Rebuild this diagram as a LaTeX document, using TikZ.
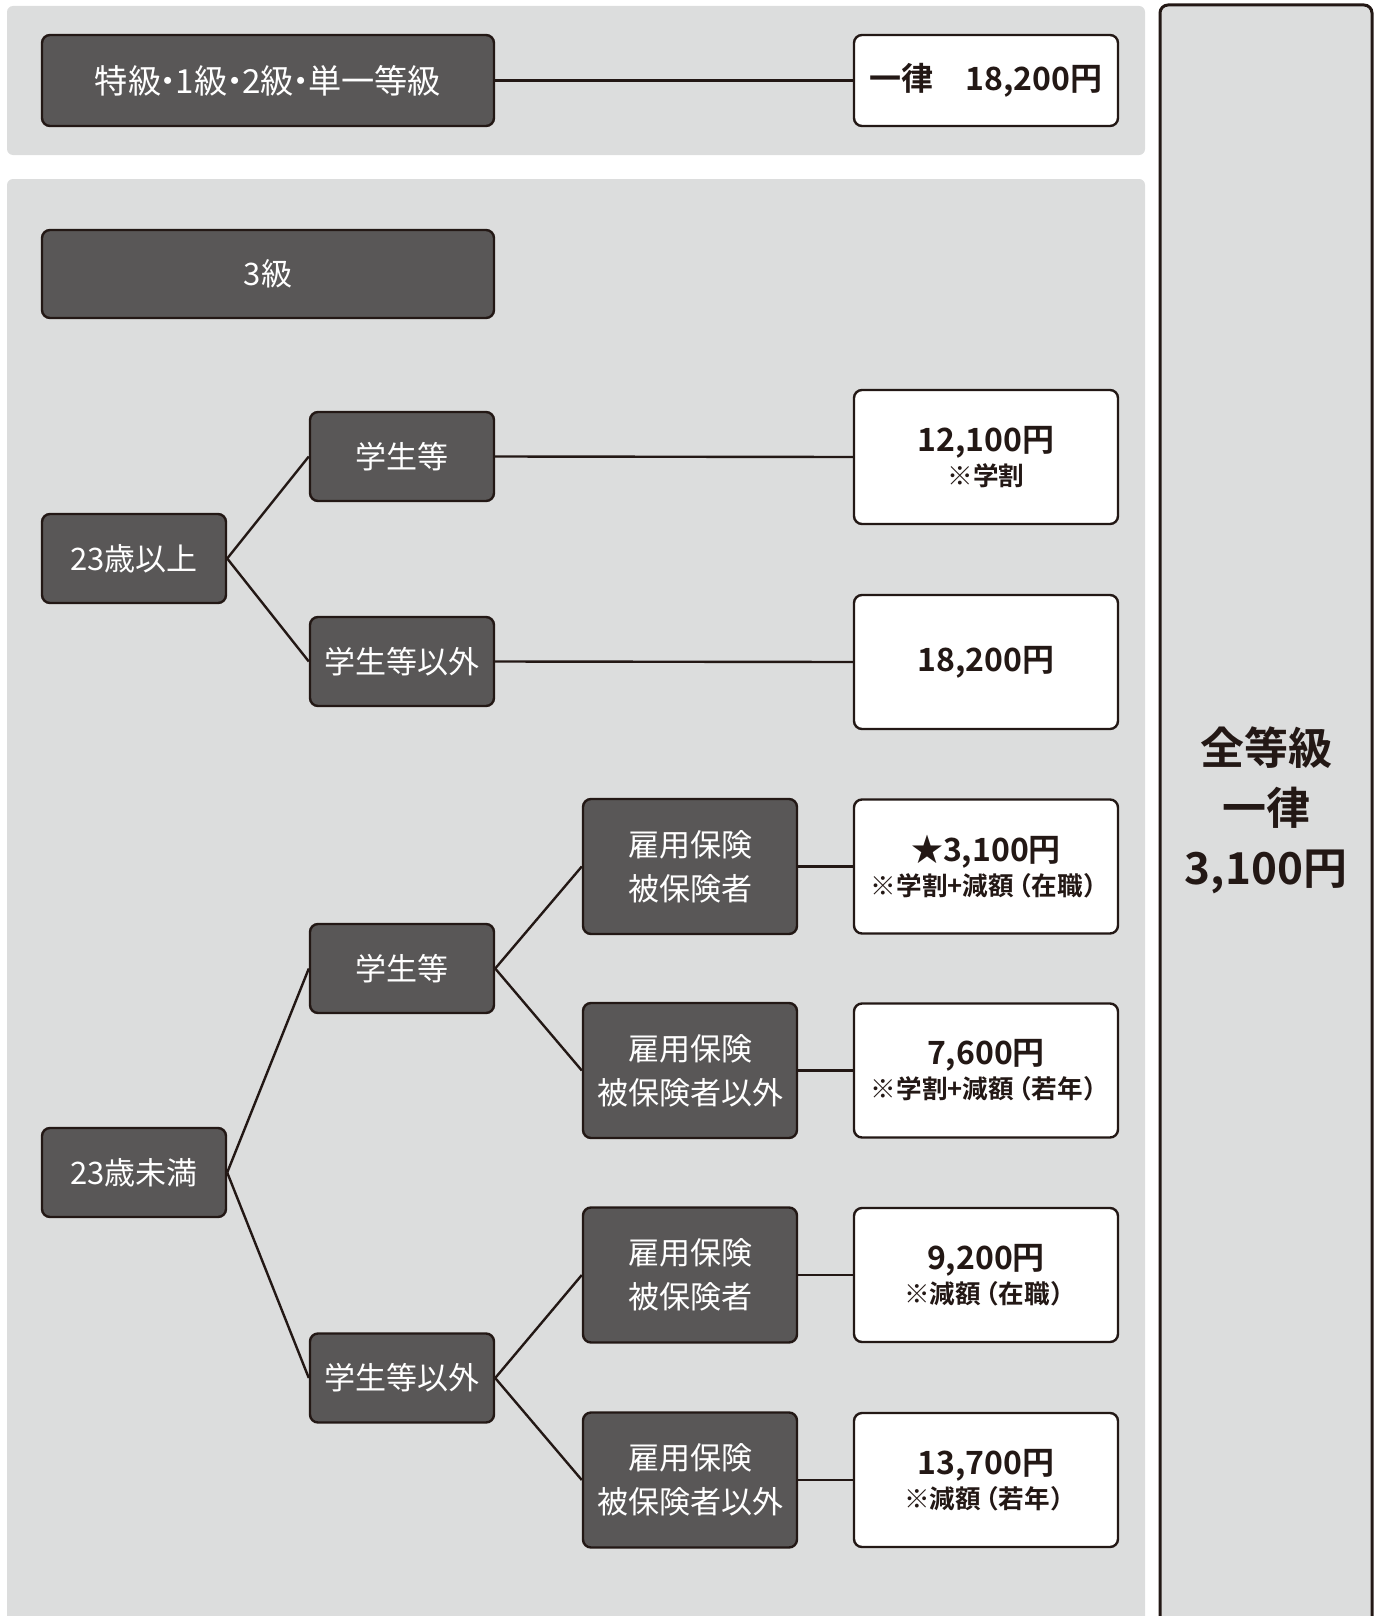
\documentclass[tikz,border=0pt]{standalone}
\usepackage{fontspec}
\newfontfamily\jp{Noto Sans CJK JP}[BoldFont={Noto Sans CJK JP Bold}]
\definecolor{panelgray}{HTML}{DCDDDD}
\definecolor{darkbox}{HTML}{595757}
\definecolor{inkline}{HTML}{231815}
\newcommand\pricetext[2]{{\fontsize{16}{16}\selectfont #1}\\[1.5pt]{\fontsize{12.8}{12.8}\selectfont #2}}
\newcommand\lpar{{\kern-.3em}（}
\newcommand\rpar{）{\kern-.3em}}
\newcommand\ndot{{\kern-.28em}・{\kern-.28em}}
\tikzset{
  darknode/.style={draw=inkline, line width=1.2pt, fill=darkbox, rounded corners=4pt,
    text=white, font={\jp\fontsize{15.5}{22}\selectfont}, align=center, inner sep=0pt,
    minimum height=44.5pt},
  smallnode/.style={darknode, minimum width=92pt},
  widenode/.style={darknode, minimum width=226pt},
  insnode/.style={darknode, minimum width=107pt, minimum height=67.5pt},
  pricenode/.style={draw=inkline, line width=1.2pt, fill=white, rounded corners=4pt,
    text=inkline, font={\jp\bfseries}, align=center, inner sep=0pt,
    minimum width=132pt, minimum height=67pt},
  conn/.style={draw=inkline, line width=1.2pt},
}
\begin{document}
\begin{tikzpicture}[x=0.5pt, y=-0.5pt]
\useasboundingbox (0,0) rectangle (1379,1616);
\clip (0,0) rectangle (1379,1616);
% panels
\fill[panelgray, rounded corners=3pt] (7,6) rectangle (1145,155);
\fill[panelgray, rounded corners=3pt] (7,179) rectangle (1145,1680);
\filldraw[fill=panelgray, draw=inkline, line width=1.5pt, rounded corners=4pt] (1160,5) rectangle (1372,1680);
\node[font={\jp\bfseries\fontsize{22}{30}\selectfont}, text=inkline, align=center] (all) at (1266,810) {全等級\\一律\\3,100円};
% top row
\node[widenode, minimum height=45.5pt, font={\jp\fontsize{16.6}{22}\selectfont}] (top) at (268,80.5) {特級\ndot 1級\ndot 2級\ndot 単一等級};
\node[pricenode, minimum height=45.5pt, font={\jp\bfseries\fontsize{16}{16}\selectfont}] (ptop) at (986,80.5) {一律　18,200円};
% 3級
\node[widenode, minimum height=44pt] (k3) at (268,274) {3級};
% 23歳以上
\node[smallnode] (over) at (134,558.5) {23歳以上};
\node[smallnode] (stuA) at (402,456.5) {学生等};
\node[smallnode] (nstuA) at (402,661.5) {学生等以外};
\node[pricenode] (p1) at (986,457) {\pricetext{12,100円}{※学割}};
\node[pricenode, font={\jp\bfseries\fontsize{16}{16}\selectfont}] (p2) at (986,662) {18,200円};
% 23歳未満
\node[smallnode] (under) at (134,1172.5) {23歳未満};
\node[smallnode] (stuB) at (402,968.5) {学生等};
\node[smallnode] (nstuB) at (402,1378) {学生等以外};
\node[insnode] (ins1) at (690,866.5) {雇用保険\\被保険者};
\node[insnode] (nins1) at (690,1070.5) {雇用保険\\被保険者以外};
\node[insnode] (ins2) at (690,1275) {雇用保険\\被保険者};
\node[insnode] (nins2) at (690,1480) {雇用保険\\被保険者以外};
\node[pricenode] (p3) at (986,866.5) {\pricetext{★3,100円}{※学割+減額\lpar 在職\rpar}};
\node[pricenode] (p4) at (986,1070.5) {\pricetext{7,600円}{※学割+減額\lpar 若年\rpar}};
\node[pricenode] (p5) at (986,1275) {\pricetext{9,200円}{※減額\lpar 在職\rpar}};
\node[pricenode] (p6) at (986,1480) {\pricetext{13,700円}{※減額\lpar 若年\rpar}};
% connectors
\draw[conn] (top.east) -- (ptop.west);
\draw[conn] (over.east) -- (stuA.west);
\draw[conn] (over.east) -- (nstuA.west);
\draw[conn] (stuA.east) -- (p1.west);
\draw[conn] (nstuA.east) -- (p2.west);
\draw[conn] (under.east) -- (stuB.west);
\draw[conn] (under.east) -- (nstuB.west);
\draw[conn] (stuB.east) -- (ins1.west);
\draw[conn] (stuB.east) -- (nins1.west);
\draw[conn] (nstuB.east) -- (ins2.west);
\draw[conn] (nstuB.east) -- (nins2.west);
\draw[conn] (ins1.east) -- (p3.west);
\draw[conn] (nins1.east) -- (p4.west);
\draw[conn] (ins2.east) -- (p5.west);
\draw[conn] (nins2.east) -- (p6.west);
\end{tikzpicture}
\end{document}
